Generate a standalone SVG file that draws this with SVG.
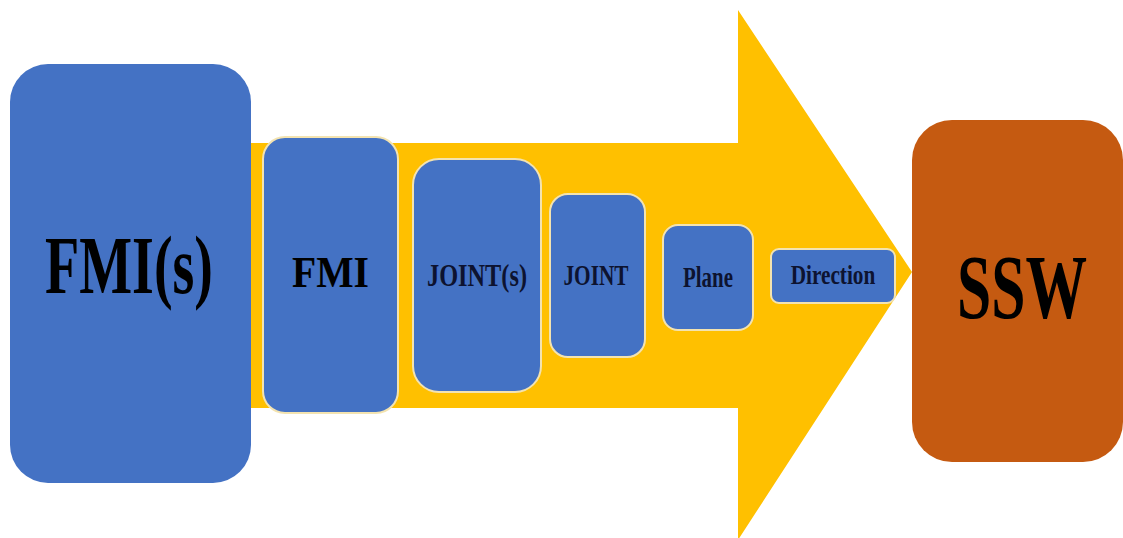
<svg xmlns="http://www.w3.org/2000/svg" width="1123" height="538" viewBox="0 0 1123 538">
  <style>
    .blue { fill: #4472C4; stroke: #F3E3B0; stroke-width: 2; }
    .big { fill: #4472C4; }
    .orange { fill: #C55A11; }
    .lbl { font-family: "Liberation Serif", "Times New Roman", serif; font-weight: bold; fill: #000; text-anchor: middle; }
    .sm { fill: #0d1330; }
  </style>
  <rect width="1123" height="538" fill="#ffffff"/>
  <g id="connectors">
    <polygon points="245,143 738,143 738,10 912,272 738,540 738,408 245,408" fill="#FFC000"/>
  </g>
  <g id="node-fmis">
    <rect class="big" x="10" y="64" width="241" height="419" rx="38" ry="38"/>
    <text class="lbl" transform="translate(129,293) scale(0.675,1)" font-size="83">FMI(s)</text>
  </g>
  <g id="node-fmi">
    <rect class="blue" x="263" y="137" width="135" height="276" rx="22" ry="22"/>
    <text class="lbl" transform="translate(330.5,287) scale(0.88,1)" font-size="45">FMI</text>
  </g>
  <g id="node-joints">
    <rect class="blue" x="413" y="159" width="128" height="233" rx="26" ry="26"/>
    <text class="lbl sm" transform="translate(477,286) scale(0.785,1)" font-size="31">JOINT(s)</text>
  </g>
  <g id="node-joint">
    <rect class="blue" x="550" y="194" width="95" height="163" rx="18" ry="18"/>
    <text class="lbl sm" transform="translate(596,285) scale(0.71,1)" font-size="30">JOINT</text>
  </g>
  <g id="node-plane">
    <rect class="blue" x="663" y="225" width="90" height="105" rx="15" ry="15"/>
    <text class="lbl sm" transform="translate(708,287) scale(0.72,1)" font-size="29">Plane</text>
  </g>
  <g id="node-direction">
    <rect class="blue" x="771" y="249" width="124" height="54" rx="8" ry="8"/>
    <text class="lbl sm" transform="translate(833,284) scale(0.787,1)" font-size="27">Direction</text>
  </g>
  <g id="node-ssw">
    <rect class="orange" x="912" y="120" width="211" height="342" rx="40" ry="40"/>
    <text class="lbl" transform="translate(1022,318) scale(0.684,1)" font-size="90">SSW</text>
  </g>
</svg>
